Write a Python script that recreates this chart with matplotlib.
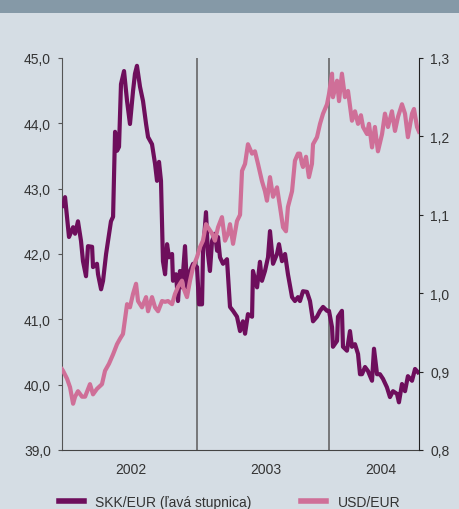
import matplotlib
matplotlib.use("Agg")
import matplotlib.pyplot as plt
from matplotlib.lines import Line2D
from matplotlib.patches import Rectangle

plt.rcParams['font.family'] = ['Liberation Sans', 'DejaVu Sans']

# time as decimal years
t_skk = [2001.977, 2001.985, 2002.000, 2002.015, 2002.030, 2002.061, 2002.076, 2002.098,
         2002.121, 2002.136, 2002.159, 2002.174, 2002.205, 2002.212, 2002.242, 2002.250,
         2002.273, 2002.288, 2002.311, 2002.326, 2002.348, 2002.364, 2002.379, 2002.394,
         2002.409, 2002.424, 2002.447, 2002.470, 2002.492, 2002.515, 2002.530, 2002.545,
         2002.568, 2002.591, 2002.614, 2002.629, 2002.659, 2002.682, 2002.697, 2002.712,
         2002.727, 2002.742, 2002.758, 2002.773, 2002.788, 2002.811, 2002.818, 2002.841,
         2002.856, 2002.871, 2002.886, 2002.909, 2002.924, 2002.947, 2002.970, 2003.000,
         2003.015, 2003.038, 2003.045, 2003.068, 2003.083, 2003.098, 2003.114, 2003.136,
         2003.152, 2003.159, 2003.174, 2003.197, 2003.227, 2003.250, 2003.273, 2003.303,
         2003.326, 2003.348, 2003.364, 2003.386, 2003.417, 2003.424, 2003.455, 2003.477,
         2003.492, 2003.515, 2003.538, 2003.553, 2003.576, 2003.606, 2003.621, 2003.644,
         2003.667, 2003.689, 2003.720, 2003.742, 2003.765, 2003.780, 2003.803, 2003.833,
         2003.856, 2003.879, 2003.909, 2003.932, 2003.955, 2003.985, 2004.000, 2004.023,
         2004.030, 2004.061, 2004.068, 2004.098, 2004.106, 2004.136, 2004.159, 2004.174,
         2004.197, 2004.220, 2004.235, 2004.250, 2004.273, 2004.295, 2004.326, 2004.341,
         2004.364, 2004.386, 2004.409, 2004.439, 2004.462, 2004.485, 2004.515, 2004.530,
         2004.553, 2004.576, 2004.598, 2004.629, 2004.652, 2004.674]
skk = [42.77, 42.73, 42.87, 42.57, 42.26, 42.41, 42.31, 42.50,
       42.20, 41.89, 41.66, 42.12, 42.11, 41.80, 41.85, 41.69,
       41.46, 41.59, 42.00, 42.20, 42.50, 42.57, 43.87, 43.58,
       43.64, 44.60, 44.80, 44.34, 43.99, 44.49, 44.76, 44.88,
       44.56, 44.34, 43.99, 43.79, 43.68, 43.38, 43.12, 43.41,
       43.12, 41.89, 41.69, 42.15, 41.95, 42.00, 41.59, 41.69,
       41.28, 41.74, 41.49, 42.12, 41.49, 41.74, 41.85, 41.80,
       41.23, 41.23, 42.00, 42.64, 42.00, 41.74, 42.20, 42.31,
       42.05, 42.26, 41.95, 41.85, 41.92, 41.19, 41.13, 41.04,
       40.82, 40.97, 40.78, 41.08, 41.04, 41.74, 41.49, 41.88,
       41.59, 41.74, 41.95, 42.35, 41.85, 42.00, 42.15, 41.89,
       42.00, 41.69, 41.34, 41.28, 41.34, 41.28, 41.43, 41.42,
       41.28, 40.97, 41.04, 41.13, 41.19, 41.13, 41.13, 40.88,
       40.58, 40.67, 41.04, 41.13, 40.58, 40.52, 40.82, 40.58,
       40.62, 40.47, 40.16, 40.16, 40.27, 40.21, 40.06, 40.55,
       40.16, 40.16, 40.09, 39.96, 39.81, 39.90, 39.86, 39.73,
       40.01, 39.90, 40.13, 40.06, 40.24, 40.19]

t_usd = [2001.977, 2001.985, 2002.015, 2002.038, 2002.061, 2002.076, 2002.098, 2002.129,
         2002.152, 2002.189, 2002.212, 2002.242, 2002.280, 2002.303, 2002.333, 2002.364,
         2002.394, 2002.417, 2002.439, 2002.470, 2002.492, 2002.515, 2002.538, 2002.553,
         2002.583, 2002.614, 2002.629, 2002.659, 2002.682, 2002.705, 2002.735, 2002.758,
         2002.780, 2002.811, 2002.833, 2002.856, 2002.886, 2002.894, 2002.924, 2002.947,
         2002.970, 2003.000, 2003.023, 2003.045, 2003.068, 2003.083, 2003.114, 2003.136,
         2003.159, 2003.189, 2003.212, 2003.235, 2003.250, 2003.273, 2003.303, 2003.326,
         2003.341, 2003.364, 2003.386, 2003.417, 2003.439, 2003.462, 2003.492, 2003.515,
         2003.530, 2003.553, 2003.576, 2003.606, 2003.629, 2003.652, 2003.674, 2003.689,
         2003.720, 2003.742, 2003.765, 2003.780, 2003.795, 2003.803, 2003.826, 2003.848,
         2003.871, 2003.879, 2003.909, 2003.932, 2003.955, 2003.985, 2004.000, 2004.023,
         2004.030, 2004.061, 2004.076, 2004.098, 2004.121, 2004.144, 2004.174, 2004.197,
         2004.220, 2004.242, 2004.258, 2004.288, 2004.303, 2004.326, 2004.348, 2004.371,
         2004.402, 2004.424, 2004.447, 2004.477, 2004.500, 2004.523, 2004.553, 2004.576,
         2004.598, 2004.629, 2004.644, 2004.667, 2004.682]
usd = [0.903, 0.901, 0.891, 0.880, 0.859, 0.868, 0.875, 0.868,
       0.868, 0.884, 0.871, 0.878, 0.884, 0.901, 0.910, 0.922,
       0.935, 0.942, 0.948, 0.986, 0.982, 0.999, 1.012, 0.990,
       0.982, 0.995, 0.977, 0.995, 0.982, 0.977, 0.990, 0.989,
       0.990, 0.986, 0.999, 1.008, 1.016, 1.008, 0.995, 1.016,
       1.033, 1.046, 1.059, 1.067, 1.088, 1.084, 1.076, 1.067,
       1.084, 1.097, 1.067, 1.076, 1.088, 1.063, 1.092, 1.100,
       1.156, 1.165, 1.190, 1.178, 1.181, 1.165, 1.143, 1.130,
       1.118, 1.148, 1.123, 1.135, 1.110, 1.084, 1.079, 1.110,
       1.130, 1.169, 1.178, 1.178, 1.165, 1.161, 1.174, 1.148,
       1.165, 1.190, 1.199, 1.216, 1.229, 1.241, 1.254, 1.280,
       1.250, 1.271, 1.245, 1.280, 1.250, 1.258, 1.220, 1.232,
       1.216, 1.227, 1.212, 1.203, 1.216, 1.186, 1.212, 1.181,
       1.203, 1.229, 1.212, 1.232, 1.207, 1.225, 1.241, 1.229,
       1.199, 1.229, 1.235, 1.212, 1.206]

years = ['2002', '2003', '2004']
year_pos = [2002.5, 2003.52, 2004.39]
left_ticks = [39, 40, 41, 42, 43, 44, 45]
right_ticks = [0.8, 0.9, 1.0, 1.1, 1.2, 1.3]

purple = '#6e0e5c'
pink = '#cf6f98'
bg = '#d5dde4'
txt = '#333333'

fig = plt.figure(figsize=(4.59, 5.10), dpi=100, facecolor=bg)
fig.add_artist(Rectangle((0, 1 - 14 / 510), 1, 14 / 510, transform=fig.transFigure,
                         color='#8599a7', lw=0))

ax = fig.add_axes([62 / 459, 1 - 451 / 510, 357 / 459, 392 / 510])
ax.set_facecolor(bg)
ax2 = ax.twinx()

for yr in [2003, 2004]:
    ax.axvline(yr, color='#666666', lw=1.2, zorder=1)

ax.plot(t_skk, skk, color=purple, lw=3, solid_joinstyle='round', zorder=3)
ax2.plot(t_usd, usd, color=pink, lw=3, solid_joinstyle='round', zorder=3)

ax.set_xlim(2001.977, 2004.682)
ax.set_ylim(39, 45)
ax2.set_ylim(0.8, 1.3)

ax.set_yticks(left_ticks)
ax.set_yticklabels(['{:.1f}'.format(v).replace('.', ',') for v in left_ticks])
ax2.set_yticks(right_ticks)
ax2.set_yticklabels(['{:.1f}'.format(v).replace('.', ',') for v in right_ticks])
ax.set_xticks(year_pos)
ax.set_xticklabels(years)

ax.tick_params(axis='y', length=3, width=0.8, color='#555555', labelsize=10,
               labelcolor=txt, pad=5)
ax2.tick_params(axis='y', length=3, width=0.8, color='#222222', labelsize=10,
                labelcolor=txt, pad=5)
ax.tick_params(axis='x', length=0, labelsize=10, labelcolor=txt, pad=9)

for a in (ax, ax2):
    a.spines['top'].set_visible(False)
ax.spines['right'].set_visible(False)
ax.spines['left'].set_color('#555555')
ax.spines['bottom'].set_color('#444444')
ax2.spines['left'].set_visible(False)
ax2.spines['bottom'].set_visible(False)
ax2.spines['right'].set_color('#222222')

handles = [Line2D([], [], color=purple, lw=4), Line2D([], [], color=pink, lw=4)]
fig.legend(handles, ['SKK/EUR (ľavá stupnica)', 'USD/EUR'], loc='center',
           bbox_to_anchor=(0.5, 1 - 503 / 510), ncol=2, frameon=False, fontsize=10,
           handlelength=1.8, handletextpad=0.8, columnspacing=3.6, labelcolor=txt)

fig.savefig('out.png', dpi=100, facecolor=bg)
